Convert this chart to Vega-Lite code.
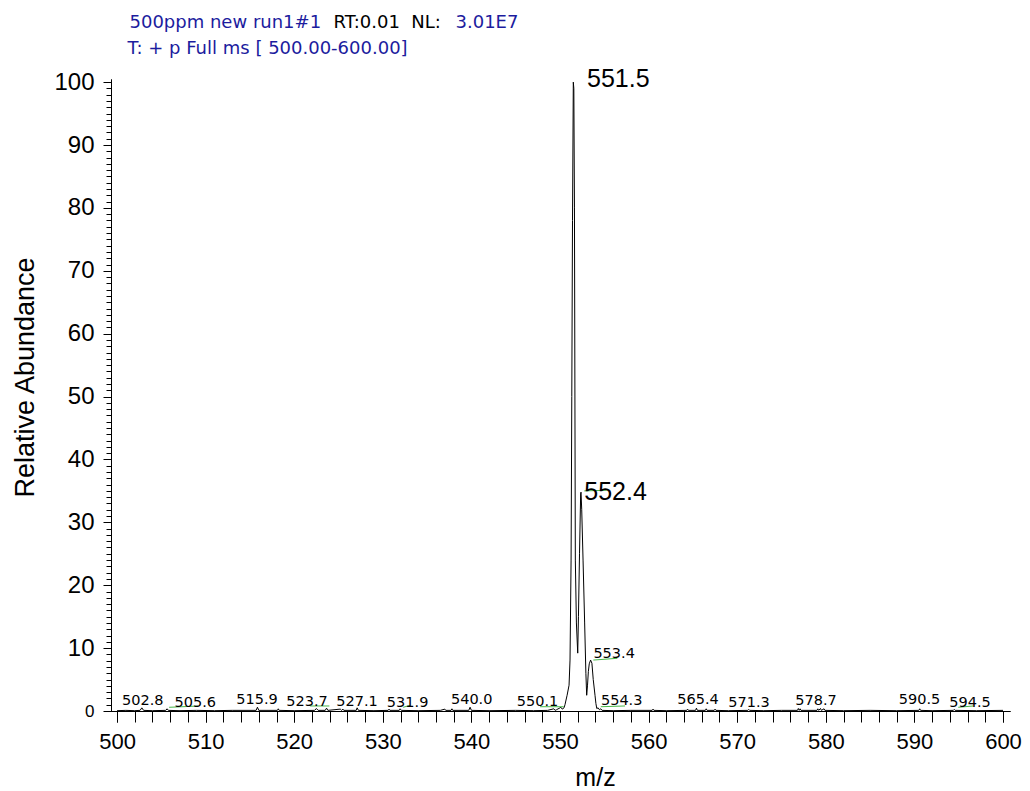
{
  "$schema": "https://vega.github.io/schema/vega-lite/v6.json",
  "width": 899,
  "height": 632,
  "autosize": "none",
  "padding": {"left": 111, "top": 79, "right": 20, "bottom": 80},
  "background": "white",
  "config": {
    "view": {"stroke": null},
    "axis": {
      "domainColor": "black",
      "tickColor": "black",
      "labelColor": "black",
      "titleColor": "black",
      "labelFont": "Liberation Sans",
      "titleFont": "Liberation Sans",
      "titleFontWeight": "normal",
      "grid": false,
      "domainWidth": 1,
      "tickWidth": 1
    }
  },
  "datasets": {
    "spectrum": [
      {"mz": 500.0, "ab": 0.05}, {"mz": 501.0, "ab": 0.1}, {"mz": 502.0, "ab": 0.05}, {"mz": 502.6, "ab": 0.1}, {"mz": 502.8, "ab": 0.5}, {"mz": 503.0, "ab": 0.1},
      {"mz": 504.0, "ab": 0.05}, {"mz": 505.5, "ab": 0.1}, {"mz": 505.65, "ab": 0.35}, {"mz": 505.8, "ab": 0.1}, {"mz": 507.0, "ab": 0.05}, {"mz": 509.0, "ab": 0.1},
      {"mz": 511.0, "ab": 0.05}, {"mz": 513.0, "ab": 0.1}, {"mz": 515.7, "ab": 0.1}, {"mz": 515.85, "ab": 0.6}, {"mz": 516.0, "ab": 0.1}, {"mz": 518.1, "ab": 0.1},
      {"mz": 518.2, "ab": 0.35}, {"mz": 518.3, "ab": 0.1}, {"mz": 520.0, "ab": 0.05}, {"mz": 522.3, "ab": 0.1}, {"mz": 522.5, "ab": 0.4}, {"mz": 522.7, "ab": 0.1},
      {"mz": 523.5, "ab": 0.1}, {"mz": 523.65, "ab": 0.45}, {"mz": 523.8, "ab": 0.1}, {"mz": 525.2, "ab": 0.3}, {"mz": 525.35, "ab": 0.1}, {"mz": 525.5, "ab": 0.3},
      {"mz": 525.6, "ab": 0.1}, {"mz": 527.0, "ab": 0.1}, {"mz": 527.1, "ab": 0.5}, {"mz": 527.25, "ab": 0.1}, {"mz": 529.0, "ab": 0.05}, {"mz": 530.6, "ab": 0.1},
      {"mz": 530.7, "ab": 0.3}, {"mz": 530.8, "ab": 0.1}, {"mz": 531.85, "ab": 0.1}, {"mz": 531.95, "ab": 0.35}, {"mz": 532.1, "ab": 0.1}, {"mz": 534.0, "ab": 0.05},
      {"mz": 536.5, "ab": 0.1}, {"mz": 537.0, "ab": 0.3}, {"mz": 537.1, "ab": 0.1}, {"mz": 537.7, "ab": 0.1}, {"mz": 537.8, "ab": 0.35}, {"mz": 537.9, "ab": 0.1},
      {"mz": 539.7, "ab": 0.1}, {"mz": 539.85, "ab": 0.6}, {"mz": 540.0, "ab": 0.1}, {"mz": 542.0, "ab": 0.05}, {"mz": 545.0, "ab": 0.1}, {"mz": 547.0, "ab": 0.05},
      {"mz": 548.6, "ab": 0.1}, {"mz": 549.3, "ab": 0.35}, {"mz": 549.45, "ab": 0.1}, {"mz": 549.6, "ab": 0.2}, {"mz": 550.0, "ab": 0.5}, {"mz": 550.1, "ab": 0.6},
      {"mz": 550.25, "ab": 0.3}, {"mz": 550.45, "ab": 0.5}, {"mz": 550.56, "ab": 1.0}, {"mz": 550.8, "ab": 2.5}, {"mz": 551.02, "ab": 4.1}, {"mz": 551.13, "ab": 8.1},
      {"mz": 551.25, "ab": 24}, {"mz": 551.33, "ab": 50}, {"mz": 551.41, "ab": 78}, {"mz": 551.5, "ab": 100}, {"mz": 551.56, "ab": 99}, {"mz": 551.63, "ab": 80},
      {"mz": 551.69, "ab": 45}, {"mz": 551.73, "ab": 24}, {"mz": 551.85, "ab": 14}, {"mz": 552.0, "ab": 9.2}, {"mz": 552.08, "ab": 15}, {"mz": 552.2, "ab": 25},
      {"mz": 552.33, "ab": 34.5}, {"mz": 552.37, "ab": 34.8}, {"mz": 552.45, "ab": 32}, {"mz": 552.6, "ab": 24}, {"mz": 552.78, "ab": 14}, {"mz": 552.92, "ab": 6},
      {"mz": 553.01, "ab": 2.5}, {"mz": 553.1, "ab": 4}, {"mz": 553.2, "ab": 6.3}, {"mz": 553.3, "ab": 7.5}, {"mz": 553.45, "ab": 8.1}, {"mz": 553.6, "ab": 7.6},
      {"mz": 553.75, "ab": 5}, {"mz": 553.95, "ab": 2.5}, {"mz": 554.05, "ab": 1.2}, {"mz": 554.15, "ab": 0.4}, {"mz": 554.3, "ab": 0.5}, {"mz": 554.45, "ab": 0.2},
      {"mz": 554.6, "ab": 0.35}, {"mz": 554.75, "ab": 0.1}, {"mz": 556.0, "ab": 0.05}, {"mz": 558.0, "ab": 0.1}, {"mz": 560.4, "ab": 0.1}, {"mz": 560.5, "ab": 0.3},
      {"mz": 560.6, "ab": 0.1}, {"mz": 562.0, "ab": 0.05}, {"mz": 564.3, "ab": 0.1}, {"mz": 564.4, "ab": 0.3}, {"mz": 564.5, "ab": 0.1}, {"mz": 565.3, "ab": 0.1},
      {"mz": 565.4, "ab": 0.45}, {"mz": 565.5, "ab": 0.1}, {"mz": 566.4, "ab": 0.1}, {"mz": 566.5, "ab": 0.35}, {"mz": 566.6, "ab": 0.1}, {"mz": 567.4, "ab": 0.1},
      {"mz": 567.5, "ab": 0.3}, {"mz": 567.6, "ab": 0.1}, {"mz": 569.0, "ab": 0.05}, {"mz": 571.2, "ab": 0.1}, {"mz": 571.3, "ab": 0.25}, {"mz": 571.4, "ab": 0.1},
      {"mz": 573.0, "ab": 0.05}, {"mz": 575.0, "ab": 0.1}, {"mz": 576.8, "ab": 0.1}, {"mz": 576.9, "ab": 0.4}, {"mz": 577.0, "ab": 0.1}, {"mz": 577.1, "ab": 0.35},
      {"mz": 577.2, "ab": 0.1}, {"mz": 579.0, "ab": 0.1}, {"mz": 579.1, "ab": 0.35}, {"mz": 579.2, "ab": 0.1}, {"mz": 579.4, "ab": 0.4}, {"mz": 579.5, "ab": 0.1},
      {"mz": 579.8, "ab": 0.35}, {"mz": 579.9, "ab": 0.1}, {"mz": 582.0, "ab": 0.05}, {"mz": 585.0, "ab": 0.1}, {"mz": 588.0, "ab": 0.05}, {"mz": 590.5, "ab": 0.1},
      {"mz": 590.6, "ab": 0.35}, {"mz": 590.7, "ab": 0.1}, {"mz": 592.0, "ab": 0.05}, {"mz": 594.4, "ab": 0.1}, {"mz": 594.5, "ab": 0.25}, {"mz": 594.6, "ab": 0.1},
      {"mz": 597.0, "ab": 0.05}, {"mz": 600.0, "ab": 0.1}
    ],
    "labels": [
      {"label": "551.5", "kind": "big", "lx": 553.05, "ly": 99.2},
      {"label": "552.4", "kind": "big", "lx": 552.74, "ly": 33.5},
      {"label": "553.4", "kind": "small", "lx": 556.11, "ly": 8.4},
      {"label": "502.8", "kind": "small", "lx": 502.91, "ly": 0.95},
      {"label": "505.6", "kind": "small", "lx": 508.83, "ly": 0.68},
      {"label": "515.9", "kind": "small", "lx": 515.8, "ly": 1.1},
      {"label": "523.7", "kind": "small", "lx": 521.44, "ly": 0.8},
      {"label": "527.1", "kind": "small", "lx": 527.09, "ly": 0.85},
      {"label": "531.9", "kind": "small", "lx": 532.8, "ly": 0.68},
      {"label": "540.0", "kind": "small", "lx": 540.03, "ly": 1.1},
      {"label": "550.1", "kind": "small", "lx": 547.46, "ly": 0.85},
      {"label": "554.3", "kind": "small", "lx": 556.96, "ly": 0.95},
      {"label": "565.4", "kind": "small", "lx": 565.58, "ly": 1.1},
      {"label": "571.3", "kind": "small", "lx": 571.33, "ly": 0.68},
      {"label": "578.7", "kind": "small", "lx": 578.89, "ly": 0.95},
      {"label": "590.5", "kind": "small", "lx": 590.57, "ly": 1.1},
      {"label": "594.5", "kind": "small", "lx": 596.28, "ly": 0.68}
    ],
    "leaders": [
      {"x1": 505.88, "y1": 0.59, "x2": 509.15, "y2": 0.79},
      {"x1": 521.79, "y1": 0.8, "x2": 523.97, "y2": 0.8},
      {"x1": 532.3, "y1": 0.59, "x2": 533.06, "y2": 0.9},
      {"x1": 547.74, "y1": 0.68, "x2": 550.42, "y2": 0.68},
      {"x1": 552.74, "y1": 35.0, "x2": 555.27, "y2": 35.1},
      {"x1": 553.76, "y1": 8.1, "x2": 556.47, "y2": 8.38},
      {"x1": 554.6, "y1": 0.68, "x2": 557.34, "y2": 0.8},
      {"x1": 594.95, "y1": 0.59, "x2": 596.65, "y2": 0.8}
    ]
  },
  "resolve": {"axis": {"x": "independent", "y": "independent"}},
  "layer": [
    {
      "data": {"name": "spectrum"},
      "mark": {"type": "line", "color": "black", "strokeWidth": 1, "clip": true},
      "encoding": {
        "x": {
          "field": "mz", "type": "quantitative",
          "scale": {"domain": [499.32, 600.79], "nice": false, "zero": false},
          "axis": {
            "orient": "bottom", "title": null, "labels": false, "tickSize": 11,
            "values": [500,502,504,506,508,510,512,514,516,518,520,522,524,526,528,530,532,534,536,538,540,542,544,546,548,550,552,554,556,558,560,562,564,566,568,570,572,574,576,578,580,582,584,586,588,590,592,594,596,598,600]
          }
        },
        "y": {
          "field": "ab", "type": "quantitative",
          "scale": {"domain": [0, 100.5], "nice": false, "zero": false},
          "axis": {
            "orient": "left", "title": null, "labels": false, "tickSize": 5,
            "values": [0,1,2,3,4,5,6,7,8,9,10,11,12,13,14,15,16,17,18,19,20,21,22,23,24,25,26,27,28,29,30,31,32,33,34,35,36,37,38,39,40,41,42,43,44,45,46,47,48,49,50,51,52,53,54,55,56,57,58,59,60,61,62,63,64,65,66,67,68,69,70,71,72,73,74,75,76,77,78,79,80,81,82,83,84,85,86,87,88,89,90,91,92,93,94,95,96,97,98,99,100]
          }
        }
      }
    },
    {
      "data": {"name": "leaders"},
      "mark": {"type": "rule", "color": "#48b848", "strokeWidth": 1},
      "encoding": {
        "x": {
          "field": "x1", "type": "quantitative",
          "scale": {"domain": [499.32, 600.79], "nice": false, "zero": false},
          "axis": {
            "orient": "top", "domain": false, "ticks": false, "labels": false,
            "title": "3.01E7", "titleFont": "DejaVu Sans", "titleFontSize": 18, "titleColor": "#1c1c9e",
            "titleX": 344, "titleY": -52, "titleAlign": "left", "titleAnchor": "start", "titleBaseline": "alphabetic"
          }
        },
        "x2": {"field": "x2"},
        "y": {
          "field": "y1", "type": "quantitative",
          "scale": {"domain": [0, 100.5], "nice": false, "zero": false},
          "axis": {
            "orient": "left", "domain": false, "ticks": false, "labels": false,
            "title": "500ppm new run1#1", "titleFont": "DejaVu Sans", "titleFontSize": 18, "titleColor": "#1c1c9e",
            "titleAngle": 0, "titleX": 18, "titleY": -52, "titleAlign": "left", "titleAnchor": "start", "titleBaseline": "alphabetic"
          }
        },
        "y2": {"field": "y2"}
      }
    },
    {
      "data": {"name": "labels"},
      "transform": [{"filter": "datum.kind == 'big'"}],
      "mark": {"type": "text", "align": "left", "baseline": "alphabetic", "font": "Liberation Sans", "fontSize": 25, "color": "black"},
      "encoding": {
        "text": {"field": "label"},
        "x": {
          "field": "lx", "type": "quantitative",
          "scale": {"domain": [499.32, 600.79], "nice": false, "zero": false},
          "axis": {
            "orient": "bottom", "values": [500,510,520,530,540,550,560,570,580,590,600],
            "tickSize": 11, "labelFontSize": 22, "labelPadding": 9, "labelFlush": false,
            "title": "m/z", "titleFontSize": 25, "titleX": 484, "titleY": 74, "titleBaseline": "alphabetic", "titleAnchor": "middle"
          }
        },
        "y": {
          "field": "ly", "type": "quantitative",
          "scale": {"domain": [0, 100.5], "nice": false, "zero": false},
          "axis": {
            "orient": "left", "values": [0,10,20,30,40,50,60,70,80,90,100],
            "tickSize": 8, "labelPadding": 9, "labelFlush": false,
            "labelFontSize": {"condition": {"test": "datum.value == 0", "value": 17}, "value": 24},
            "title": "Relative Abundance", "titleFontSize": 27, "titleX": -78, "titleY": 298, "titleBaseline": "alphabetic", "titleAngle": -90
          }
        }
      }
    },
    {
      "data": {"name": "labels"},
      "transform": [{"filter": "datum.kind == 'small'"}],
      "mark": {"type": "text", "align": "center", "baseline": "alphabetic", "font": "DejaVu Sans", "fontSize": 14.5, "color": "black"},
      "encoding": {
        "text": {"field": "label"},
        "x": {
          "field": "lx", "type": "quantitative",
          "scale": {"domain": [499.32, 600.79], "nice": false, "zero": false},
          "axis": {
            "orient": "top", "domain": false, "ticks": false, "labels": false,
            "title": "RT:0.01\u00a0\u00a0NL:", "titleFont": "DejaVu Sans", "titleFontSize": 18, "titleColor": "black",
            "titleX": 222, "titleY": -52, "titleAlign": "left", "titleAnchor": "start", "titleBaseline": "alphabetic"
          }
        },
        "y": {
          "field": "ly", "type": "quantitative",
          "scale": {"domain": [0, 100.5], "nice": false, "zero": false},
          "axis": {
            "orient": "left", "domain": false, "ticks": false, "labels": false,
            "title": "T: + p Full ms [ 500.00-600.00]", "titleFont": "DejaVu Sans", "titleFontSize": 18, "titleColor": "#1c1c9e",
            "titleAngle": 0, "titleX": 16, "titleY": -26, "titleAlign": "left", "titleAnchor": "start", "titleBaseline": "alphabetic"
          }
        }
      }
    }
  ]
}
